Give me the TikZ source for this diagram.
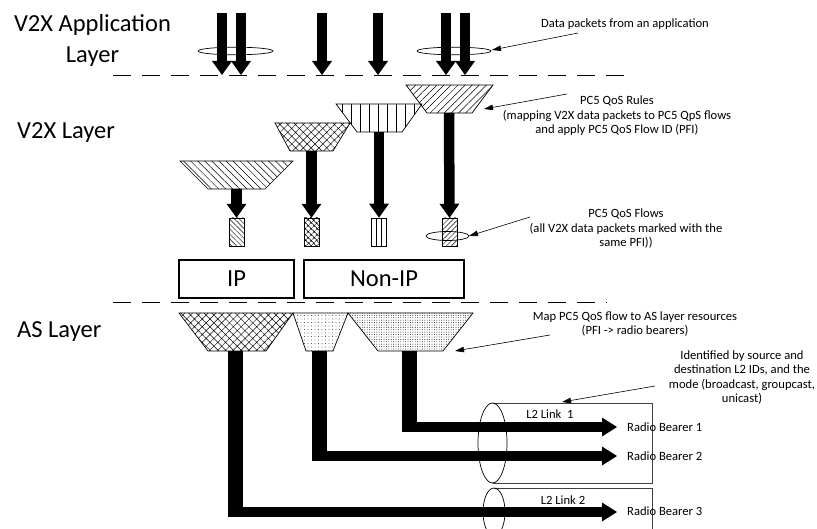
\documentclass[tikz,border=0pt]{standalone}
\usepackage{fontspec}
\setmainfont{Carlito}
\usetikzlibrary{arrows.meta,patterns.meta}
\begin{document}
\begin{tikzpicture}[x=1pt,y=-1pt,
  big/.style={font=\fontsize{24.5}{31}\selectfont, inner sep=0pt, align=center},
  small/.style={font=\fontsize{12.6}{14.5}\selectfont, inner sep=0pt, align=center},
  blockarr/.style={line width=10.5pt, -{Triangle[length=14pt,width=20pt,line width=0pt]}},
  beararr/.style={line width=10pt, -{Triangle[length=15pt,width=19pt,line width=0pt]}},
  callout/.style={line width=0.6pt, -{Triangle[length=9pt,width=5.5pt]}},
  funnel/.style={draw, line width=0.7pt},
  layerline/.style={line width=0.8pt, dash pattern=on 18pt off 11pt},
  flowbox/.style={draw, line width=0.7pt, minimum width=15pt, minimum height=28pt, inner sep=0pt},
  ipbox/.style={draw, line width=2pt, inner sep=0pt, minimum height=38pt, font=\fontsize{24.5}{30}\selectfont},
  bwd/.style={pattern={Lines[angle=-45,distance=5pt,line width=0.5pt]}},
  fwd/.style={pattern={Lines[angle=45,distance=5pt,line width=0.5pt]}},
  vert/.style={pattern={Lines[angle=90,distance=9pt,line width=0.5pt]}},
  xhatch/.style={pattern={Hatch[angle=45,distance=5.5pt,line width=0.45pt]}},
  sdots/.style={pattern={Dots[distance=3.5pt,radius=0.45pt]}},
  ddots/.style={pattern={Dots[distance=2.4pt,radius=0.45pt]}},
  cyl/.style={line width=0.7pt, draw=black!75},
]
\useasboundingbox (0,0) rectangle (817,529);
\clip (0,0) rectangle (817,529);

% layer labels
\node[big] (appl) at (92.5,40) {V2X Application\\Layer};
\node[big, anchor=west] (v2xl) at (17,133) {V2X Layer};
\node[big, anchor=west] (asl) at (17,332) {AS Layer};

% layer separators
\draw[layerline] (113,75) -- (627,75);
\draw[layerline] (113,302) -- (607,302);

% top packet arrows
\foreach \i/\x in {1/222,2/241,3/322,4/378,5/446,6/465}{
  \coordinate (ps\i) at (\x,13);
  \coordinate (pe\i) at (\x,75);
  \draw[blockarr] (ps\i) -- (pe\i);
}
\draw[line width=0.7pt] (235.5,51) ellipse [x radius=37.5, y radius=3.8];
\draw[line width=0.7pt] (454,51) ellipse [x radius=37, y radius=3.8];
\coordinate (appellE) at (492,50);

% V2X funnels (PC5 QoS rules)
\draw[funnel, bwd] (180,161) -- (293,161) -- (265,189) -- (208,189) -- cycle;
\draw[funnel, xhatch] (275,123) -- (350,123) -- (333,151) -- (290,151) -- cycle;
\draw[funnel, vert] (336,104) -- (422,104) -- (402,132) -- (357,132) -- cycle;
\draw[funnel, fwd] (406,85) -- (493,85) -- (472,113) -- (427,113) -- cycle;
\coordinate (f1b) at (236.5,189);
\coordinate (f2b) at (311.5,151);
\coordinate (f3b) at (379,132);
\coordinate (f4b) at (449,113);
\coordinate (f4r) at (484,109);

% PC5 QoS flows
\node[flowbox, pattern={Lines[angle=-45,distance=3.5pt,line width=0.45pt]}] (fl1) at (236.5,232) {};
\node[flowbox, pattern={Hatch[angle=45,distance=4pt,line width=0.45pt]}] (fl2) at (311.5,232) {};
\node[flowbox] (fl3) at (379,232) {};
\draw[line width=0.5pt] ([xshift=-2.5pt]fl3.north) -- ([xshift=-2.5pt]fl3.south);
\draw[line width=0.5pt] ([xshift=2.5pt]fl3.north) -- ([xshift=2.5pt]fl3.south);
\node[flowbox, pattern={Lines[angle=45,distance=3.5pt,line width=0.45pt]}] (fl4) at (449.5,232) {};
\draw[line width=0.7pt] (447.5,236) ellipse [x radius=21.5, y radius=4.5];
\coordinate (flellE) at (469,236);

\draw[blockarr] (f1b) -- (fl1.north);
\draw[blockarr] (f2b) -- (fl2.north);
\draw[blockarr] (f3b) -- (fl3.north);
\draw[blockarr] (f4b) -- (fl4.north);

% IP / Non-IP
\node[ipbox, minimum width=115pt] (ip) at (236.5,279) {IP};
\node[ipbox, minimum width=160pt] (nonip) at (384,279) {Non-IP};

% AS funnels
\draw[funnel, xhatch] (179,313) -- (293,313) -- (266,351) -- (208,351) -- cycle;
\draw[funnel, sdots] (293,313) -- (348,313) -- (333,351) -- (306,351) -- cycle;
\draw[funnel, ddots] (348,313) -- (473,313) -- (443,351) -- (378,351) -- cycle;
\coordinate (asA) at (235,351);
\coordinate (asB) at (319.5,351);
\coordinate (asC) at (409.5,351);
\coordinate (asCr) at (455,351);

% L2 links (cylinders)
\draw[cyl] (492.5,403) -- (652,403) -- (652,483) -- (492.5,483);
\draw[line width=0.7pt] (492.5,443) ellipse [x radius=14.5, y radius=40];
\coordinate (l1top) at (562,402);
\draw[cyl] (494,488) -- (652,488) -- (652,540);
\draw[line width=0.7pt] (494,512) ellipse [x radius=11, y radius=24];

\node[small] (l1) at (550,414) {L2 Link~~1};
\node[small] (l2) at (563,500) {L2 Link 2};

% radio bearers
\node[small, anchor=west] (rb1) at (627,427) {Radio Bearer 1};
\node[small, anchor=west] (rb2) at (627,456) {Radio Bearer 2};
\node[small, anchor=west] (rb3) at (627,511) {Radio Bearer 3};

% AS connectors
\coordinate (cC) at (409.5,432);
\coordinate (hC) at (402,427);
\coordinate (tC) at (617,427);
\coordinate (cB) at (319.5,461);
\coordinate (hB) at (312,456);
\coordinate (tB) at (617,456);
\coordinate (cA) at (235,517);
\coordinate (hA) at (227.5,512);
\coordinate (tA) at (617,512);
\draw[line width=15pt] (asC) -- (cC);
\draw[beararr] (hC) -- (tC);
\draw[line width=15pt] (asB) -- (cB);
\draw[beararr] (hB) -- (tB);
\draw[line width=15pt] (asA) -- (cA);
\draw[beararr] (hA) -- (tA);

% annotations
\node[small] (tdata) at (625,24) {Data packets from an application};
\node[small] (trules) at (617,116) {PC5 QoS Rules\\(mapping V2X data packets to PC5 QpS flows\\and apply PC5 QoS Flow ID (PFI)};
\node[small] (tflows) at (626,229) {PC5 QoS Flows\\(all V2X data packets marked with the\\same PFI))};
\node[small] (tmap) at (635,324) {Map PC5 QoS flow to AS layer resources\\(PFI -> radio bearers)};
\node[small] (tid) at (742,377.5) {Identified by source and\\destination L2 IDs, and the\\mode (broadcast, groupcast,\\unicast)};

\coordinate (cd) at (578,33);
\coordinate (cr) at (567,94);
\coordinate (cf) at (530,217);
\coordinate (cm) at (550,335);
\coordinate (ci) at (655,386);
\draw[callout] (cd) -- (appellE);
\draw[callout] (cr) -- (f4r);
\draw[callout] (cf) -- (flellE);
\draw[callout] (cm) -- (asCr);
\draw[callout] (ci) -- (l1top);
\end{tikzpicture}
\end{document}
